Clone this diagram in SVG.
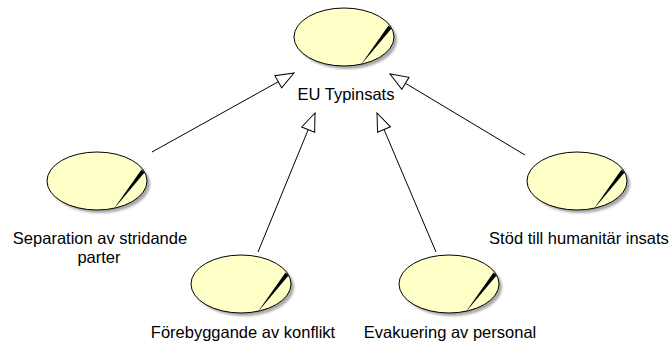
<svg xmlns="http://www.w3.org/2000/svg" width="670" height="346" viewBox="0 0 670 346">
<defs>
<style>
.uc-shadow{fill:#a8a8a8;}
.uc{fill:#ffffc8;stroke:#000;stroke-width:1;}
.wedge{fill:#000;}
.lbl{font-family:"Liberation Sans",Arial,sans-serif;font-size:16.5px;fill:#000;text-anchor:middle;}
.gen{stroke:#000;stroke-width:1;fill:none;}
</style>
<filter id="blur" x="-20%" y="-20%" width="140%" height="140%"><feGaussianBlur stdDeviation="1"/></filter>
<marker id="tri" markerUnits="userSpaceOnUse" markerWidth="22" markerHeight="18" refX="20" refY="8" orient="auto">
<path d="M20,8 L2,1 L2,15 Z" fill="#fff" stroke="#000" stroke-width="1"/>
</marker>
<g id="usecase">
<ellipse class="uc-shadow" cx="3" cy="3" rx="50" ry="29" filter="url(#blur)"/>
<ellipse class="uc" cx="0" cy="0" rx="50" ry="29"/>
<polygon class="wedge" points="16,29 44.5,-11.5 47.5,-8.5"/>
</g>
</defs>
<g id="connectors">
<line class="gen" x1="152" y1="152" x2="294" y2="73" marker-end="url(#tri)"/>
<line class="gen" x1="258" y1="252" x2="315" y2="113" marker-end="url(#tri)"/>
<line class="gen" x1="436" y1="252" x2="377" y2="113" marker-end="url(#tri)"/>
<line class="gen" x1="525" y1="155" x2="390" y2="74" marker-end="url(#tri)"/>
</g>
<g id="eu-typinsats">
<use href="#usecase" x="344" y="37"/>
<text class="lbl" x="346" y="100">EU Typinsats</text>
</g>
<g id="separation">
<use href="#usecase" x="97" y="181"/>
<text class="lbl" x="100" y="244">Separation av stridande</text>
<text class="lbl" x="99" y="263">parter</text>
</g>
<g id="forebyggande">
<use href="#usecase" x="241" y="284"/>
<text class="lbl" x="243" y="338">Förebyggande av konflikt</text>
</g>
<g id="evakuering">
<use href="#usecase" x="449" y="284"/>
<text class="lbl" x="450" y="338">Evakuering av personal</text>
</g>
<g id="stod">
<use href="#usecase" x="577" y="181"/>
<text class="lbl" x="579" y="244">Stöd till humanitär insats</text>
</g>
</svg>
